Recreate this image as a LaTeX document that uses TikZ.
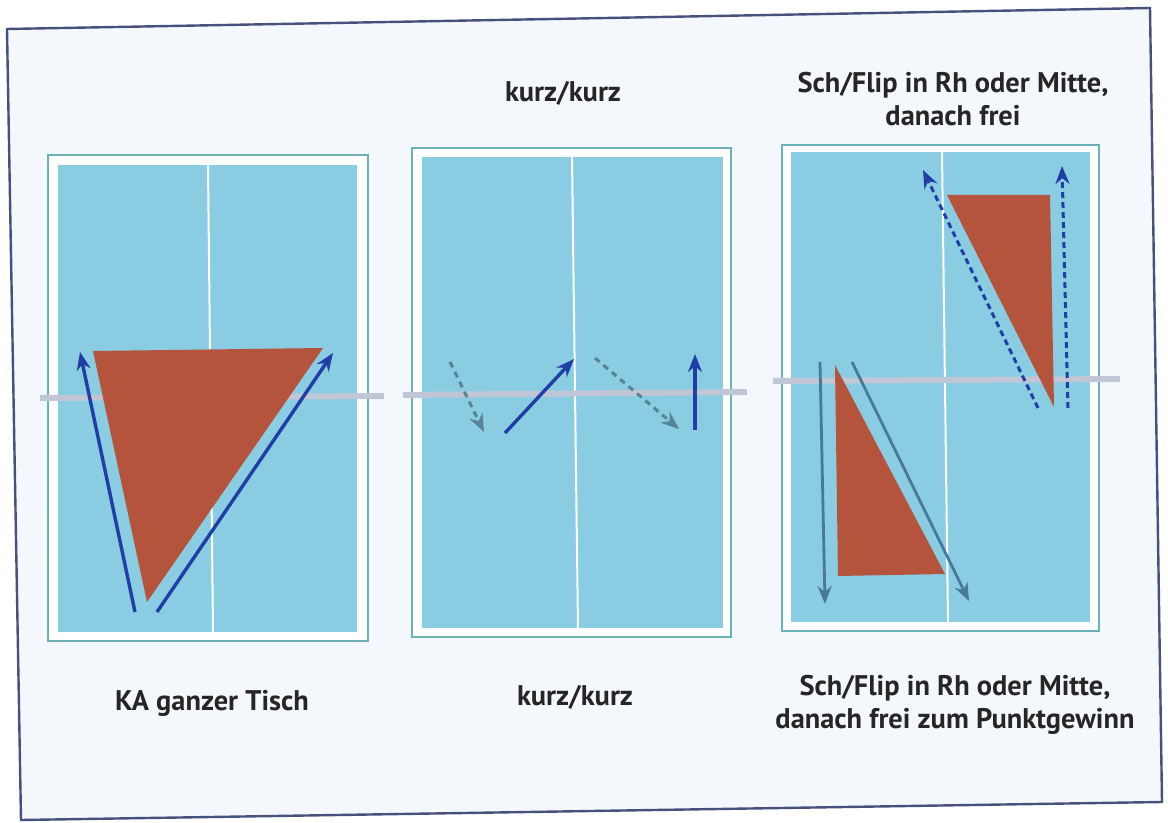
\documentclass[tikz,border=0pt]{standalone}
\usepackage{fontspec}
\setmainfont{PT Sans}
\usetikzlibrary{arrows.meta}
\definecolor{pagebg}{RGB}{244,248,252}
\definecolor{framecol}{RGB}{70,82,125}
\definecolor{tableblue}{RGB}{138,204,226}
\definecolor{tableedge}{RGB}{105,178,182}
\definecolor{netcol}{RGB}{192,198,214}
\definecolor{redfield}{RGB}{181,84,60}
\definecolor{arrowblue}{RGB}{32,62,165}
\definecolor{arrowgrey}{RGB}{88,130,150}
\definecolor{arrowsteel}{RGB}{72,122,152}
\tikzset{
  lbl/.style={font=\fontsize{14.2}{16.5}\selectfont\bfseries, text=black!85, align=center, inner sep=0pt},
  tableframe/.style={fill=white, draw=tableedge, line width=1.2pt},
  surface/.style={fill=tableblue},
  midline/.style={draw=white, line width=1pt},
  netline/.style={draw=netcol, line width=3pt},
  field/.style={fill=redfield},
  solidblue/.style={draw=arrowblue, line width=1.7pt, -{Stealth[length=9pt,width=7pt]}},
  dashgrey/.style={draw=arrowgrey, line width=1.5pt, dash pattern=on 3pt off 2.5pt, -{Stealth[length=9pt,width=7pt]}},
  dashblue/.style={draw=arrowblue, line width=1.5pt, dash pattern=on 3pt off 2pt, -{Stealth[length=9pt,width=7pt]}},
  solidsteel/.style={draw=arrowsteel, line width=1.4pt, -{Stealth[length=9pt,width=7pt]}},
}
\begin{document}
\begin{tikzpicture}[x=0.5pt,y=-0.5pt]
\useasboundingbox (0,0) rectangle (1168,823);
% outer frame
\fill[white] (0,0) rectangle (1168,823);
\filldraw[fill=pagebg, draw=framecol, line width=1.2pt] (7,29) -- (1150,8) -- (1162,802) -- (21,820) -- cycle;

% ---------- Table 1 ----------
\path[tableframe] (48,155) rectangle (368,641);
\path[surface] (58,165) rectangle (357,632);
\draw[midline] (208,165) -- (213,632);
\draw[netline] (40,398) -- (384,396);
\path[field] (93,351) -- (323,348) -- (147,602) -- cycle;
\coordinate (a1s) at (135,612);
\coordinate (a1e) at (80,352);
\coordinate (a2s) at (157,612);
\coordinate (a2e) at (333,353);
\draw[solidblue] (a1s) -- (a1e);
\draw[solidblue] (a2s) -- (a2e);

% ---------- Table 2 ----------
\path[tableframe] (412,148) rectangle (731,637);
\path[surface] (422,157) rectangle (723,628);
\draw[midline] (572,157) -- (578,628);
\draw[netline] (403,395) -- (747,392);
\coordinate (b1s) at (450,362);
\coordinate (b1e) at (484,432);
\coordinate (b2s) at (505,433);
\coordinate (b2e) at (574,359);
\coordinate (b3s) at (595,358);
\coordinate (b3e) at (679,429);
\coordinate (b4s) at (695,430);
\coordinate (b4e) at (695,354);
\draw[dashgrey] (b1s) -- (b1e);
\draw[solidblue] (b2s) -- (b2e);
\draw[dashgrey] (b3s) -- (b3e);
\draw[solidblue] (b4s) -- (b4e);

% ---------- Table 3 ----------
\path[tableframe] (782,145) rectangle (1099,631);
\path[surface] (791,152) rectangle (1090,622);
\draw[midline] (942,152) -- (948,622);
\draw[netline] (773,381) -- (1120,379);
\path[field] (947,195) -- (1050,195) -- (1054,407) -- cycle;
\path[field] (835,365) -- (945,574) -- (838,576) -- cycle;
\coordinate (c1s) at (1038,408);
\coordinate (c1e) at (923,170);
\coordinate (c2s) at (1068,408);
\coordinate (c2e) at (1062,166);
\coordinate (c3s) at (820,362);
\coordinate (c3e) at (825,604);
\coordinate (c4s) at (852,362);
\coordinate (c4e) at (969,601);
\draw[dashblue] (c1s) -- (c1e);
\draw[dashblue] (c2s) -- (c2e);
\draw[solidsteel] (c3s) -- (c3e);
\draw[solidsteel] (c4s) -- (c4e);

% ---------- Labels ----------
\node[lbl] (t2) at (563,93) {kurz/kurz};
\node[lbl] (t3) at (953,99) {Sch/Flip in Rh oder Mitte,\\danach frei};
\node[lbl] (l1) at (212,703) {KA ganzer Tisch};
\node[lbl] (l2) at (575,697) {kurz/kurz};
\node[lbl] (l3) at (955,705) {Sch/Flip in Rh oder Mitte,\\danach frei zum Punktgewinn};
\end{tikzpicture}
\end{document}
